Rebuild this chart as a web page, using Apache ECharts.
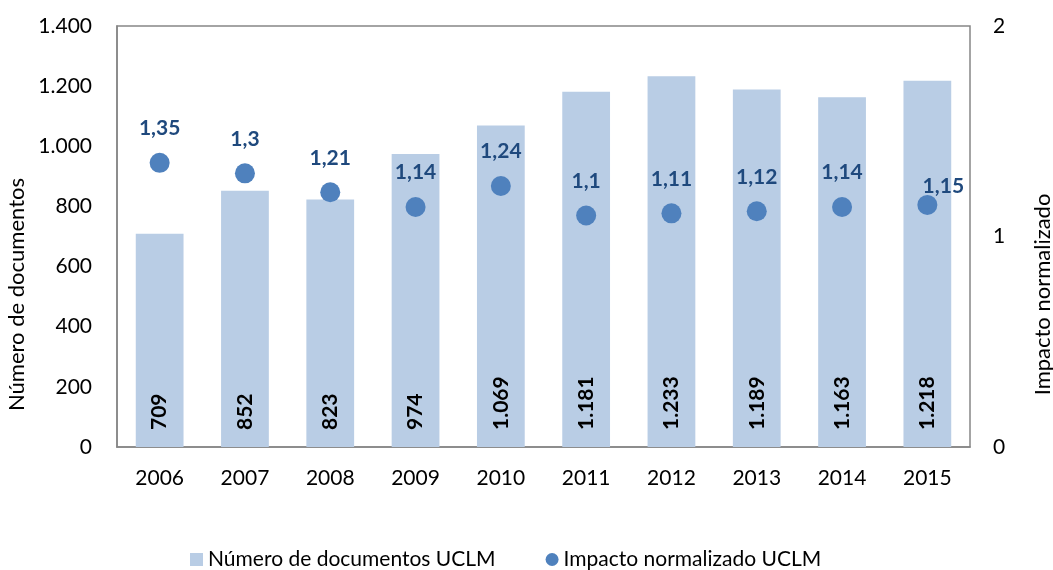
<!DOCTYPE html>
<html>
<head>
<meta charset="utf-8">
<script src="https://cdn.jsdelivr.net/npm/echarts@6/dist/echarts.min.js"></script>
<style>
  html, body { margin: 0; padding: 0; background: #fff; }
  #chart { width: 1053px; height: 570px; }
</style>
</head>
<body>
<div id="chart"></div>
<script>
// datos
const years = ['2006', '2007', '2008', '2009', '2010', '2011', '2012', '2013', '2014', '2015'];
const documentos = [709, 852, 823, 974, 1069, 1181, 1233, 1189, 1163, 1218];
const impacto = [1.35, 1.3, 1.21, 1.14, 1.24, 1.1, 1.11, 1.12, 1.14, 1.15];

const FONT = 'Lato, "Open Sans", sans-serif';

// separador de miles con punto, decimales con coma
const fmtMiles = v => String(v).replace(/\B(?=(\d{3})+(?!\d))/g, '.');
const fmtDec = v => String(v).replace('.', ',');

const chart = echarts.init(document.getElementById('chart'));

chart.setOption({
    animation: false,
    textStyle: { fontFamily: FONT },
    grid: {
        left: 117, right: 83, top: 26, bottom: 123,
        outerBoundsMode: 'none',
        show: true, borderColor: '#868686', borderWidth: 1.5
    },
    legend: {
        left: 185,
        top: 544,
        itemGap: 50,
        itemWidth: 13,
        itemHeight: 13,
        textStyle: { fontSize: 21, color: '#000', fontFamily: FONT },
        data: [
            { name: 'Número de documentos UCLM', icon: 'rect' },
            { name: 'Impacto normalizado UCLM', icon: 'circle', itemStyle: { opacity: 1 } }
        ]
    },
    xAxis: {
        type: 'category',
        data: years,
        axisLine: { lineStyle: { color: '#868686', width: 1.5 } },
        axisTick: { show: false },
        axisLabel: { fontSize: 21, color: '#000', margin: 21 }
    },
    yAxis: [
        {
            type: 'value', min: 0, max: 1400, interval: 200,
            name: 'Número de documentos',
            nameLocation: 'middle', nameGap: 75,
            nameTextStyle: { fontSize: 22, color: '#000', padding: [0, 116, 0, 0] },
            axisLine: { show: true, lineStyle: { color: '#868686', width: 1.5 } },
            axisTick: { show: false },
            splitLine: { show: false },
            axisLabel: { fontSize: 21, color: '#000', margin: 25, formatter: fmtMiles }
        },
        {
            type: 'value', min: 0, max: 2, interval: 1,
            name: 'Impacto normalizado',
            nameLocation: 'middle', nameGap: 62, nameRotate: 90,
            nameTextStyle: { fontSize: 22, color: '#000', padding: [0, 116, 0, 0] },
            axisLine: { show: false },
            axisTick: { show: false },
            splitLine: { show: false },
            axisLabel: { fontSize: 21, color: '#000', margin: 23 }
        }
    ],
    series: [
        {
            name: 'Número de documentos UCLM',
            type: 'bar',
            barWidth: '56%',
            data: documentos,
            itemStyle: { color: '#B9CDE5' },
            label: {
                show: true,
                position: 'insideBottom',
                align: 'left',
                verticalAlign: 'middle',
                distance: 17,
                fontSize: 21,
                fontWeight: 'bold',
                color: '#000',
                formatter: p => fmtMiles(p.value)
            },
            // label.rotate no se aplica aquí, se gira vía labelLayout
            labelLayout: { rotate: 90 }
        },
        {
            name: 'Impacto normalizado UCLM',
            type: 'scatter',
            yAxisIndex: 1,
            symbolSize: 20,
            itemStyle: { color: '#4F81BD', opacity: 1 },
            data: impacto.map((v, i) => i === impacto.length - 1
                ? { value: v, label: { offset: [16, 16] } }
                : v),
            label: {
                show: true,
                position: 'top',
                distance: 14,
                fontSize: 21,
                fontWeight: 'bold',
                color: '#1F497D',
                opacity: 1,
                formatter: p => fmtDec(p.value)
            }
        }
    ]
});
</script>
</body>
</html>
